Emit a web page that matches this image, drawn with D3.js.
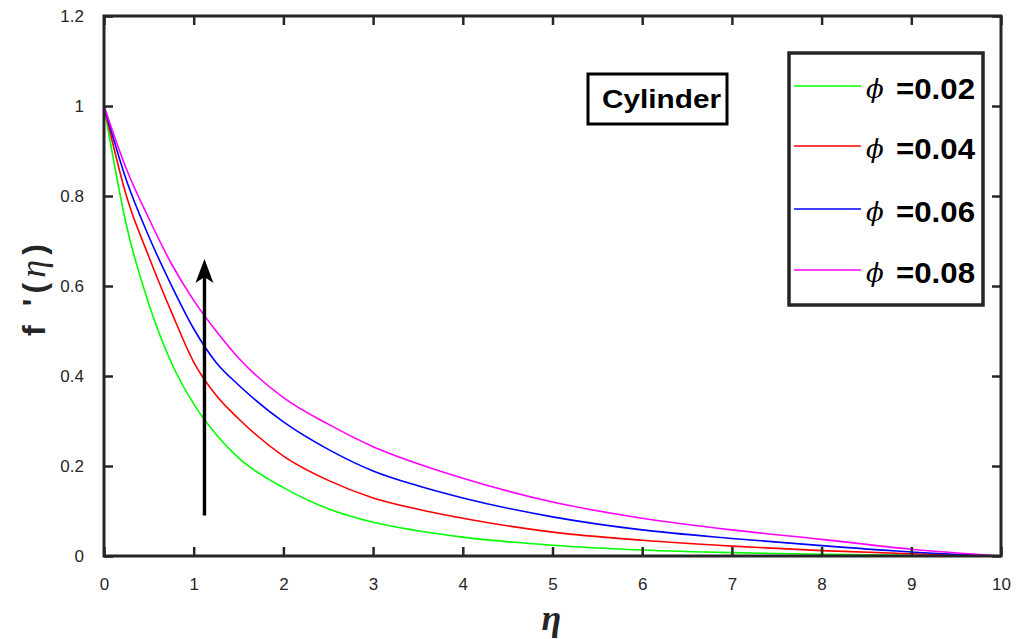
<!DOCTYPE html>
<html>
<head>
<meta charset="utf-8">
<script src="https://cdn.jsdelivr.net/npm/d3@7"></script>
<style>
  body { margin: 0; background: #fff; }
  svg { display: block; }
  .tick text { font-family: "Liberation Sans", Arial, sans-serif; font-size: 17px; fill: #262626; }
</style>
</head>
<body>
<div id="chart"></div>
<script>
// eta grid and f'(eta)
const eta = [0, 0.25, 0.5, 0.75, 1, 1.25, 1.5, 2, 2.5, 3, 3.5, 4, 5, 6, 7, 8, 9, 10];
const phi002 = [1, 0.735, 0.56, 0.43, 0.338, 0.27, 0.218, 0.152, 0.105, 0.075, 0.056, 0.042, 0.024, 0.0135, 0.0075, 0.0038, 0.0015, 0];
const phi004 = [1, 0.80, 0.665, 0.543, 0.431, 0.357, 0.305, 0.222, 0.168, 0.129, 0.104, 0.084, 0.053, 0.035, 0.022, 0.012, 0.005, 0];
const phi006 = [1, 0.835, 0.71, 0.602, 0.505, 0.43, 0.38, 0.298, 0.237, 0.189, 0.156, 0.129, 0.087, 0.058, 0.039, 0.023, 0.009, 0];
const phi008 = [1, 0.86, 0.75, 0.65, 0.568, 0.50, 0.44, 0.352, 0.293, 0.243, 0.205, 0.173, 0.12, 0.084, 0.058, 0.037, 0.015, 0];
const seriesNames = ["=0.02", "=0.04", "=0.06", "=0.08"];
const seriesColors = ["#00ff00", "#ff0000", "#0000ff", "#ff00ff"];
const xTicks = [0, 1, 2, 3, 4, 5, 6, 7, 8, 9, 10];
const yTicks = [0, 0.2, 0.4, 0.6, 0.8, 1, 1.2];
// arrow annotation (data units)
const arrowEta = 1.12, arrowFrom = 0.09, arrowTo = 0.66;

const W = 1018, H = 639;
const margin = { top: 16, right: 17, bottom: 83, left: 104 };
const width = W - margin.left - margin.right;
const height = H - margin.top - margin.bottom;

const svg = d3.select("#chart").append("svg")
  .attr("width", W).attr("height", H);

const x = d3.scaleLinear().domain([0, 10]).range([0, width]);
const y = d3.scaleLinear().domain([0, 1.2]).range([height, 0]);

const g = svg.append("g")
  .attr("transform", "translate(" + margin.left + "," + margin.top + ")");

const allSeries = [phi002, phi004, phi006, phi008];

const line = d3.line()
  .x(function(d, i) { return x(eta[i]); })
  .y(function(d) { return y(d); })
  .curve(d3.curveMonotoneX);

g.selectAll(".curve")
  .data(allSeries)
  .enter().append("path")
    .attr("class", "curve")
    .attr("fill", "none")
    .attr("stroke-width", 1.6)
    .attr("stroke", function(d, i) { return seriesColors[i]; })
    .attr("d", line);

// arrow
const ax = x(arrowEta), tipY = y(arrowTo);
g.append("line")
  .attr("x1", ax).attr("x2", ax)
  .attr("y1", y(arrowFrom)).attr("y2", tipY + 14)
  .attr("stroke", "#000").attr("stroke-width", 3.4);
g.append("path")
  .attr("d", "M" + ax + "," + tipY +
    " L" + (ax + 9) + "," + (tipY + 24) +
    " L" + ax + "," + (tipY + 18) +
    " L" + (ax - 9) + "," + (tipY + 24) + " Z")
  .attr("fill", "#000");

// axes (box with inward ticks on all sides)
const axisColor = "#262626";
function styleAxis(sel, showText) {
  sel.select(".domain").remove();
  sel.selectAll(".tick line").attr("stroke", axisColor).attr("stroke-width", 2.5);
  if (!showText) sel.selectAll(".tick text").remove();
}

g.append("g").attr("transform", "translate(0," + height + ")")
  .call(d3.axisBottom(x).tickValues(xTicks).tickSizeInner(-9).tickSizeOuter(0).tickPadding(22).tickFormat(d3.format("d")))
  .call(styleAxis, true);
g.append("g")
  .call(d3.axisTop(x).tickValues(xTicks).tickSizeInner(-9).tickSizeOuter(0))
  .call(styleAxis, false);
g.append("g")
  .call(d3.axisLeft(y).tickValues(yTicks).tickSizeInner(-9).tickSizeOuter(0).tickPadding(20)
    .tickFormat(function(d) { return d3.format("")(+d.toFixed(1)); }))
  .call(styleAxis, true);
g.append("g").attr("transform", "translate(" + width + ",0)")
  .call(d3.axisRight(y).tickValues(yTicks).tickSizeInner(-9).tickSizeOuter(0))
  .call(styleAxis, false);

g.append("rect")
  .attr("width", width).attr("height", height)
  .attr("fill", "none").attr("stroke", axisColor).attr("stroke-width", 3);

// axis labels
svg.append("text")
  .attr("x", margin.left + x(5) - 1).attr("y", 630)
  .attr("text-anchor", "middle")
  .attr("font-family", "'Liberation Serif', 'Times New Roman', serif")
  .attr("font-style", "italic").attr("font-weight", "bold")
  .attr("font-size", 36).attr("fill", "#262626")
  .text("η");

const yl = svg.append("text")
  .attr("transform", "translate(45,290) rotate(-90)")
  .attr("text-anchor", "middle")
  .attr("font-family", "'Liberation Sans', Arial, sans-serif")
  .attr("font-weight", "bold").attr("font-size", 32).attr("fill", "#262626")
  .attr("textLength", 92).attr("lengthAdjust", "spacing");
yl.append("tspan").text("f '(");
yl.append("tspan")
  .attr("font-family", "'Liberation Serif', 'Times New Roman', serif")
  .attr("font-style", "italic").attr("font-weight", "normal").attr("font-size", 36).text("η");
yl.append("tspan").text(")");

// "Cylinder" box
svg.append("rect")
  .attr("x", 588).attr("y", 74).attr("width", 139).attr("height", 50)
  .attr("fill", "#fff").attr("stroke", "#000").attr("stroke-width", 3);
svg.append("text")
  .attr("x", 602).attr("y", 108)
  .attr("font-family", "'Liberation Sans', Arial, sans-serif")
  .attr("font-weight", "bold").attr("font-size", 25)
  .attr("textLength", 119).attr("lengthAdjust", "spacingAndGlyphs")
  .text("Cylinder");

// legend
const legend = svg.append("g");
legend.append("rect")
  .attr("x", 789).attr("y", 53).attr("width", 194).attr("height", 252)
  .attr("fill", "#fff").attr("stroke", "#262626").attr("stroke-width", 3.5);

const rowY = [86, 146, 209, 270];
const items = legend.selectAll(".item")
  .data(seriesNames)
  .enter().append("g")
    .attr("class", "item")
    .attr("transform", function(d, i) { return "translate(0," + rowY[i] + ")"; });

items.append("line")
  .attr("x1", 794).attr("x2", 861)
  .attr("stroke", function(d, i) { return seriesColors[i]; })
  .attr("stroke-width", 1.6);

items.append("text")
  .attr("x", 866).attr("y", 12)
  .attr("font-family", "'DejaVu Serif', serif")
  .attr("font-style", "italic").attr("font-size", 26)
  .text("ϕ");

items.append("text")
  .attr("x", 896).attr("y", 13)
  .attr("font-family", "'Liberation Sans', Arial, sans-serif")
  .attr("font-weight", "bold").attr("font-size", 29)
  .attr("textLength", 79).attr("lengthAdjust", "spacingAndGlyphs")
  .text(function(d) { return d; });
</script>
</body>
</html>
